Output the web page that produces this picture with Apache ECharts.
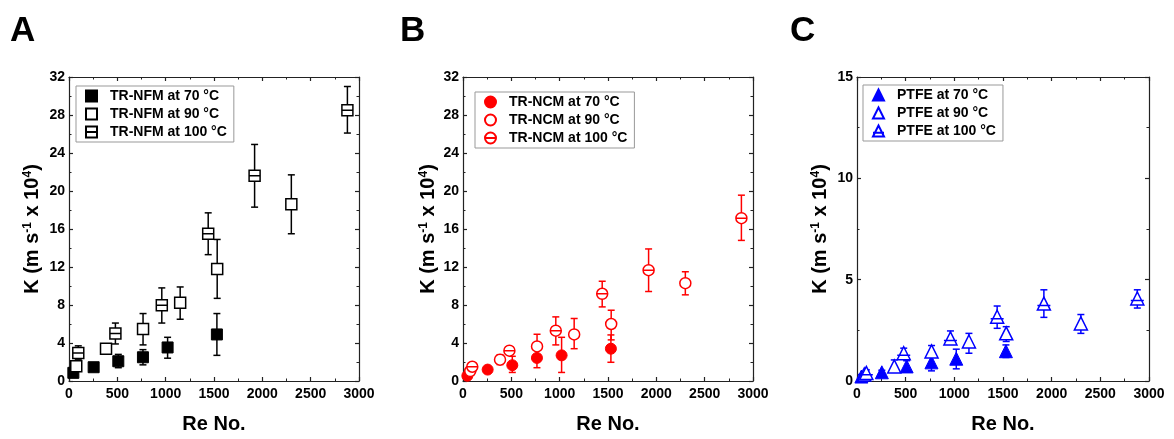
<!DOCTYPE html>
<html>
<head>
<meta charset="utf-8">
<script src="https://cdn.jsdelivr.net/npm/echarts@6/dist/echarts.min.js"></script>
<style>
html,body{margin:0;padding:0;background:#fff;}
#chart{width:1174px;height:439px;}
</style>
</head>
<body>
<div id="chart"></div>
<script>
// ---- Data ----
const panelLabels = ['A', 'B', 'C'];
const xTickLabels = ['0', '500', '1000', '1500', '2000', '2500', '3000'];

// Reynolds numbers for each temperature
const re70 = [45, 255, 510, 765, 1020, 1530];
const re90 = [75, 383, 766, 1150, 1533, 2300];
const re100 = [96, 480, 960, 1440, 1920, 2880];

// Panel A: TR-NFM
const nfmNames = ['TR-NFM at 70 °C', 'TR-NFM at 90 °C', 'TR-NFM at 100 °C'];
const nfmK70 = [0.86, 1.45, 2.08, 2.5, 3.53, 4.9];
const nfmLo70 = [0.6, 1.2, 1.4, 1.7, 2.4, 2.7];
const nfmHi70 = [1.1, 1.7, 2.8, 3.3, 4.6, 7.1];
const nfmK90 = [1.56, 3.4, 5.47, 8.24, 11.8, 18.6];
const nfmLo90 = [1.1, 3.0, 3.8, 6.5, 8.7, 15.5];
const nfmHi90 = [2.1, 3.8, 7.1, 9.9, 14.9, 21.7];
const nfmK100 = [2.94, 5.0, 7.97, 15.5, 21.6, 28.5];
const nfmLo100 = [2.3, 3.9, 6.1, 13.3, 18.3, 26.1];
const nfmHi100 = [3.7, 6.1, 9.8, 17.7, 24.9, 31.0];

// Panel B: TR-NCM
const ncmNames = ['TR-NCM at 70 °C', 'TR-NCM at 90 °C', 'TR-NCM at 100 °C'];
const ncmK70 = [0.55, 1.2, 1.66, 2.43, 2.7, 3.4];
const ncmLo70 = [0.35, 1.0, 0.9, 1.4, 0.9, 1.97];
const ncmHi70 = [0.75, 1.4, 2.6, 3.5, 4.6, 4.85];
const ncmK90 = [1.05, 2.25, 3.64, 4.9, 6.0, 10.3];
const ncmLo90 = [0.8, 1.73, 2.4, 3.4, 4.33, 9.07];
const ncmHi90 = [1.3, 2.77, 4.92, 6.58, 7.45, 11.5];
const ncmK100 = [1.5, 3.19, 5.3, 9.18, 11.67, 17.14];
const ncmLo100 = [1.2, 2.9, 3.8, 7.8, 9.42, 14.8];
const ncmHi100 = [1.8, 3.45, 6.75, 10.5, 13.9, 19.56];

// Panel C: PTFE
const ptfeNames = ['PTFE at 70 °C', 'PTFE at 90 °C', 'PTFE at 100 °C'];
const ptfeK70 = [0.22, 0.43, 0.72, 0.92, 1.1, 1.47];
const ptfeLo70 = [0.12, 0.33, 0.44, 0.5, 0.6, 1.16];
const ptfeHi70 = [0.32, 0.53, 1.0, 1.25, 1.57, 1.78];
const ptfeK90 = [0.32, 0.72, 1.46, 1.95, 2.35, 2.84];
const ptfeLo90 = [0.22, 0.43, 1.2, 1.37, 1.95, 2.35];
const ptfeHi90 = [0.45, 1.04, 1.75, 2.35, 2.68, 3.28];
const ptfeK100 = [0.4, 1.37, 2.1, 3.17, 3.82, 4.07];
const ptfeLo100 = [0.3, 1.15, 1.81, 2.6, 3.14, 3.6];
const ptfeHi100 = [0.55, 1.62, 2.47, 3.7, 4.5, 4.5];

// ---- Styling ----
const FONT = 'Liberation Sans, Arial, sans-serif';
const AXIS_COLOR = '#222';

const SYM = {
  squareFill: 'rect',
  squareOpen: 'rect',
  squareLine: 'path://M0,0H10V10H0ZM0,5H10',
  circle: 'circle',
  circleLine: 'path://M10,5A5,5,0,1,1,0,5A5,5,0,1,1,10,5ZM0,5H10',
  triangle: 'triangle',
  triangleLine: 'path://M5,0L10,10H0ZM0,6.5H10'
};

const panels = [
  {
    grid: {left: 69, top: 77, width: 290, height: 308},
    yMax: 32, yInt: 4, nameGapY: 27,
    color: '#000000',
    names: nfmNames,
    ks: [nfmK70, nfmK90, nfmK100], los: [nfmLo70, nfmLo90, nfmLo100], his: [nfmHi70, nfmHi90, nfmHi100],
    symbols: [SYM.squareFill, SYM.squareOpen, SYM.squareLine], filled: [true, false, false], size: 11,
    legend: {left: 76, top: 86}
  },
  {
    grid: {left: 463, top: 77, width: 290, height: 308},
    yMax: 32, yInt: 4, nameGapY: 25,
    color: '#ff0000',
    names: ncmNames,
    ks: [ncmK70, ncmK90, ncmK100], los: [ncmLo70, ncmLo90, ncmLo100], his: [ncmHi70, ncmHi90, ncmHi100],
    symbols: [SYM.circle, SYM.circle, SYM.circleLine], filled: [true, false, false], size: 11,
    legend: {left: 475, top: 92}
  },
  {
    grid: {left: 857, top: 77, width: 292, height: 306},
    yMax: 15, yInt: 5, nameGapY: 27,
    color: '#0000ff',
    names: ptfeNames,
    ks: [ptfeK70, ptfeK90, ptfeK100], los: [ptfeLo70, ptfeLo90, ptfeLo100], his: [ptfeHi70, ptfeHi90, ptfeHi100],
    symbols: [SYM.triangle, SYM.triangle, SYM.triangleLine], filled: [true, false, false], size: 13,
    legend: {left: 863, top: 85}
  }
];
const reSets = [re70, re90, re100];

const grids = [], xAxes = [], yAxes = [], series = [], legends = [], graphics = [];

function axisCommon(show) {
  return {
    axisLine: {show: true, onZero: false, lineStyle: {color: AXIS_COLOR, width: 1.2}},
    axisTick: {show: true, inside: true, length: 4, lineStyle: {color: AXIS_COLOR, width: 1.2}},
    minorTick: {show: true, splitNumber: 2, length: 2.5, lineStyle: {color: AXIS_COLOR, width: 1}},
    splitLine: {show: false},
    axisLabel: {show: show, color: '#000', fontFamily: FONT, fontWeight: 'bold', fontSize: 14}
  };
}

function makeErr(color) {
  return function (params, api) {
    const x = api.value(0), lo = api.value(1), hi = api.value(2);
    const p1 = api.coord([x, lo]);
    const p2 = api.coord([x, hi]);
    const cw = 3.5;
    const st = {stroke: color, lineWidth: 1.5};
    return {
      type: 'group',
      children: [
        {type: 'line', shape: {x1: p1[0], y1: p1[1], x2: p2[0], y2: p2[1]}, style: st},
        {type: 'line', shape: {x1: p1[0] - cw, y1: p1[1], x2: p1[0] + cw, y2: p1[1]}, style: st},
        {type: 'line', shape: {x1: p2[0] - cw, y1: p2[1], x2: p2[0] + cw, y2: p2[1]}, style: st}
      ]
    };
  };
}

panels.forEach((p, gi) => {
  grids.push(Object.assign({containLabel: false}, p.grid));
  const xb = xAxes.length;
  xAxes.push(Object.assign({
    type: 'value', gridIndex: gi, position: 'bottom', min: 0, max: 3000, interval: 500,
    name: 'Re No.', nameLocation: 'middle', nameGap: 33,
    nameTextStyle: {fontFamily: FONT, fontWeight: 'bold', fontSize: 20, color: '#000'}
  }, axisCommon(true)));
  xAxes[xb].axisLabel.margin = 6;
  xAxes[xb].axisLabel.formatter = function (v) { return xTickLabels[Math.round(v / 500)]; };
  xAxes.push(Object.assign({type: 'value', gridIndex: gi, position: 'top', min: 0, max: 3000, interval: 500}, axisCommon(false)));

  const yb = yAxes.length;
  yAxes.push(Object.assign({
    type: 'value', gridIndex: gi, position: 'left', min: 0, max: p.yMax, interval: p.yInt,
    name: '{a|K (m s}{s|-1}{a| x 10}{s|4}{a|)}', nameLocation: 'middle', nameGap: p.nameGapY, nameRotate: 90,
    nameTextStyle: {
      fontFamily: FONT, fontWeight: 'bold', fontSize: 20, color: '#000',
      rich: {
        a: {fontFamily: FONT, fontWeight: 'bold', fontSize: 20, color: '#000', verticalAlign: 'bottom'},
        s: {fontFamily: FONT, fontWeight: 'bold', fontSize: 12, color: '#000', verticalAlign: 'top'}
      }
    }
  }, axisCommon(true)));
  yAxes[yb].axisLabel.margin = 4;
  yAxes.push(Object.assign({type: 'value', gridIndex: gi, position: 'right', min: 0, max: p.yMax, interval: p.yInt}, axisCommon(false)));

  // error bars first (below markers)
  p.names.forEach((nm, si) => {
    const re = reSets[si];
    series.push({
      type: 'custom', name: nm + ' err', xAxisIndex: xb, yAxisIndex: yb,
      renderItem: makeErr(p.color),
      encode: {x: 0, y: [1, 2]},
      data: re.map((r, i) => [r, p.los[si][i], p.his[si][i]]),
      z: 2, silent: true
    });
  });
  p.names.forEach((nm, si) => {
    const re = reSets[si];
    series.push({
      type: 'scatter', name: nm, xAxisIndex: xb, yAxisIndex: yb,
      symbol: p.symbols[si], symbolSize: p.size,
      itemStyle: p.filled[si]
        ? {color: p.color, borderColor: p.color, borderWidth: 1, opacity: 1}
        : {color: '#ffffff', borderColor: p.color, borderWidth: 1.5, opacity: 1},
      data: re.map((r, i) => [r, p.ks[si][i]]),
      z: 3, silent: true
    });
  });

  legends.push({
    data: p.names, orient: 'vertical', left: p.legend.left, top: p.legend.top,
    itemWidth: 11, itemHeight: 11, itemGap: 4,
    padding: [3, 7, 3, 9],
    borderColor: '#999', borderWidth: 1, borderRadius: 0,
    selectedMode: false,
    textStyle: {fontFamily: FONT, fontWeight: 'bold', fontSize: 14, color: '#000', padding: [0, 0, 0, 8]}
  });

  graphics.push({
    type: 'text', left: [10, 400, 790][gi], top: 14,
    style: {text: panelLabels[gi], font: 'bold 35px ' + FONT, fill: '#000'}
  });
});

const chart = echarts.init(document.getElementById('chart'), null, {renderer: 'canvas'});
chart.setOption({
  backgroundColor: '#ffffff',
  animation: false,
  grid: grids,
  xAxis: xAxes,
  yAxis: yAxes,
  legend: legends,
  series: series,
  graphic: graphics
});
</script>
</body>
</html>
